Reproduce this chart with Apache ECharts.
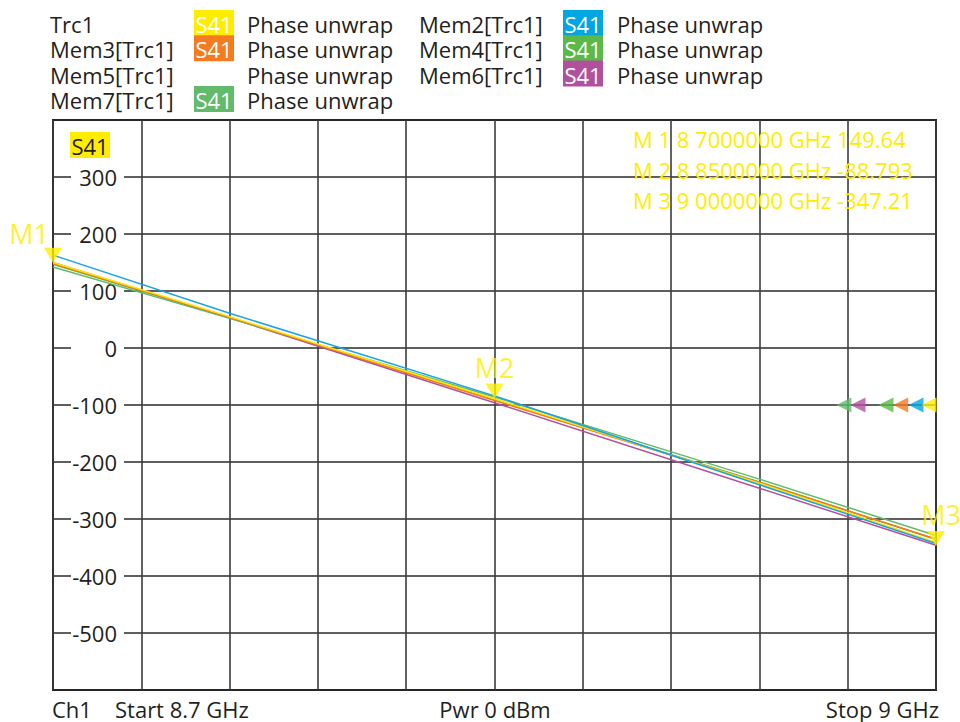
<!DOCTYPE html>
<html>
<head>
<meta charset="utf-8">
<script src="https://cdn.jsdelivr.net/npm/echarts@6/dist/echarts.min.js"></script>
<style>
html,body{margin:0;padding:0;background:#fff;}
#chart{width:960px;height:722px;}
</style>
</head>
<body>
<div id="chart"></div>
<script>
// ---- data ----
var freqMHz = [8700, 8760, 8850, 8940, 9000];
var trc1 = [150, 55, -89, -237, -341];
var mem2 = [163, 61, -84, -240, -343];
var mem3 = [148, 54, -92, -236, -335];
var mem4 = [147, 53, -91, -235, -336];
var mem6 = [150, 53, -96, -246, -346];
var mem7 = [142, 52, -86, -230, -329];

var yTicks = [-600, 400, 100]; // min, max, interval
var xTicks = [8700, 9000, 30];

var legendNames = ['Trc1', 'Mem2[Trc1]', 'Mem3[Trc1]', 'Mem4[Trc1]', 'Mem5[Trc1]', 'Mem6[Trc1]', 'Mem7[Trc1]'];
var legendColors = ['#ffed00', '#00a6e2', '#f47b20', '#5ab947', null, '#b1519e', '#62bb6b'];
var paramLabel = 'S41';
var formatLabel = 'Phase unwrap';

var markerNames = ['M1', 'M2', 'M3'];
var markerMHz = [8700, 8850, 9000];
var markerVal = [149.64, -88.793, -347.21];
var markerText = ['M 1 8 7000000 GHz 149.64', 'M 2 8 8500000 GHz -88.793', 'M 3 9 0000000 GHz -347.21'];

var refLevel = -100;
var refArrowMHz = [8968.7, 8973.5, 8983, 8988, 8993.2, 8997.6];
var refArrowColors = ['#62bb6b', '#b1519e', '#5ab947', '#f47b20', '#00a6e2', '#ffed00'];

var footer = ['Ch1', 'Start 8.7 GHz', 'Pwr 0 dBm', 'Stop 9 GHz'];

// ---- chart ----
var FONT = '"Open Sans", "Noto Sans", sans-serif';
var TXT = '#231f20';
var chart = echarts.init(document.getElementById('chart'), null, {renderer: 'svg'});

function pair(ys) { return freqMHz.map(function (f, i) { return [f, ys[i]]; }); }
function line(name, ys, color, z) {
  return {
    name: name, type: 'line', data: pair(ys), symbol: 'none', z: z,
    lineStyle: {color: color, width: 1.5}, animation: false
  };
}
function txt(x, y, s, color, align, z) {
  return {type: 'text', x: x, y: y, z: z || 1, style: {
    text: s, font: '22px ' + FONT, fill: color, align: align || 'left',
    verticalAlign: 'middle', lineHeight: 20
  }};
}

var graphics = [];
// legend
legendNames.forEach(function (n, i) {
  var row = Math.floor(i / 2), col = i % 2;
  var cy = 23 + row * 25.3;
  var x0 = col === 0 ? 50 : 419;
  var xb = col === 0 ? 194 : 563;
  var xd = col === 0 ? 247 : 617;
  graphics.push(txt(x0, cy + 1, n, TXT));
  if (legendColors[i]) {
    graphics.push({type: 'rect', shape: {x: xb, y: cy - 13, width: 40, height: 26}, style: {fill: legendColors[i]}});
    graphics.push(txt(xb + 20, cy + 1, paramLabel, '#fff', 'center', 2));
  }
  graphics.push(txt(xd, cy + 1, formatLabel, TXT));
});
// S41 badge inside plot
graphics.push({type: 'rect', shape: {x: 70, y: 132, width: 40, height: 26}, style: {fill: '#ffed00'}, z: 10});
graphics.push(txt(90, 146, paramLabel, TXT, 'center', 11));
// marker readout
markerText.forEach(function (t, i) {
  graphics.push(txt(633, 139 + i * 30.5, t, '#ffed00', 'left', 12));
});
// footer
graphics.push(txt(52, 709, footer[0], TXT));
graphics.push(txt(115, 709, footer[1], TXT));
graphics.push(txt(495, 709, footer[2], TXT, 'center'));
graphics.push(txt(939, 709, footer[3], TXT, 'right'));

var option = {
  animation: false,
  backgroundColor: '#fff',
  grid: {left: 53, top: 120, right: 24, bottom: 32, show: true, borderColor: '#231f20', borderWidth: 2, backgroundColor: 'transparent'},
  xAxis: {
    type: 'value', min: xTicks[0], max: xTicks[1], interval: xTicks[2],
    axisLabel: {show: false}, axisTick: {show: false}, axisLine: {show: false},
    splitLine: {show: true, lineStyle: {color: '#3c3c3c', width: 1.6}}
  },
  yAxis: {
    type: 'value', min: yTicks[0], max: yTicks[1], interval: yTicks[2],
    axisTick: {show: false}, axisLine: {show: false},
    splitLine: {show: true, lineStyle: {color: '#2a2a2a', width: 1.6}},
    axisLabel: {
      inside: true, margin: 71, align: 'right', width: 46, overflow: 'none',
      padding: [0, 7, 0, 0], backgroundColor: '#fff',
      showMinLabel: false, showMaxLabel: false,
      fontFamily: FONT, fontSize: 22, color: TXT, lineHeight: 22
    }
  },
  graphic: graphics,
  series: [
    line('Mem4[Trc1]', mem4, '#5ab947', 2),
    line('Mem6[Trc1]', mem6, '#b1519e', 3),
    line('Mem7[Trc1]', mem7, '#62bb6b', 3),
    line('Mem3[Trc1]', mem3, '#f47b20', 4),
    line('Trc1', trc1, '#ffe600', 5),
    line('Mem2[Trc1]', mem2, '#1aa3e0', 6),
    {
      type: 'scatter', z: 10, animation: false,
      data: markerNames.map(function (n, i) {
        return {
          name: n, value: [markerMHz[i], markerVal[i]],
          label: i === 0 ? {offset: [-24, 2]} : (i === 2 ? {offset: [5, 0]} : {})
        };
      }),
      symbol: 'triangle', symbolRotate: 180, symbolSize: [18, 15], symbolOffset: [0, '-50%'],
      itemStyle: {color: '#ffed00'},
      clip: false,
      label: {show: true, position: 'top', distance: 3, formatter: '{b}', color: '#ffed00', fontSize: 27, fontFamily: FONT}
    },
    {
      type: 'scatter', z: 9, animation: false, clip: false,
      data: refArrowMHz.map(function (f, i) {
        return {value: [f, refLevel], itemStyle: {color: refArrowColors[i]}};
      }),
      symbol: 'triangle', symbolRotate: 90, symbolSize: [15, 15]
    }
  ]
};
chart.setOption(option);
</script>
</body>
</html>
